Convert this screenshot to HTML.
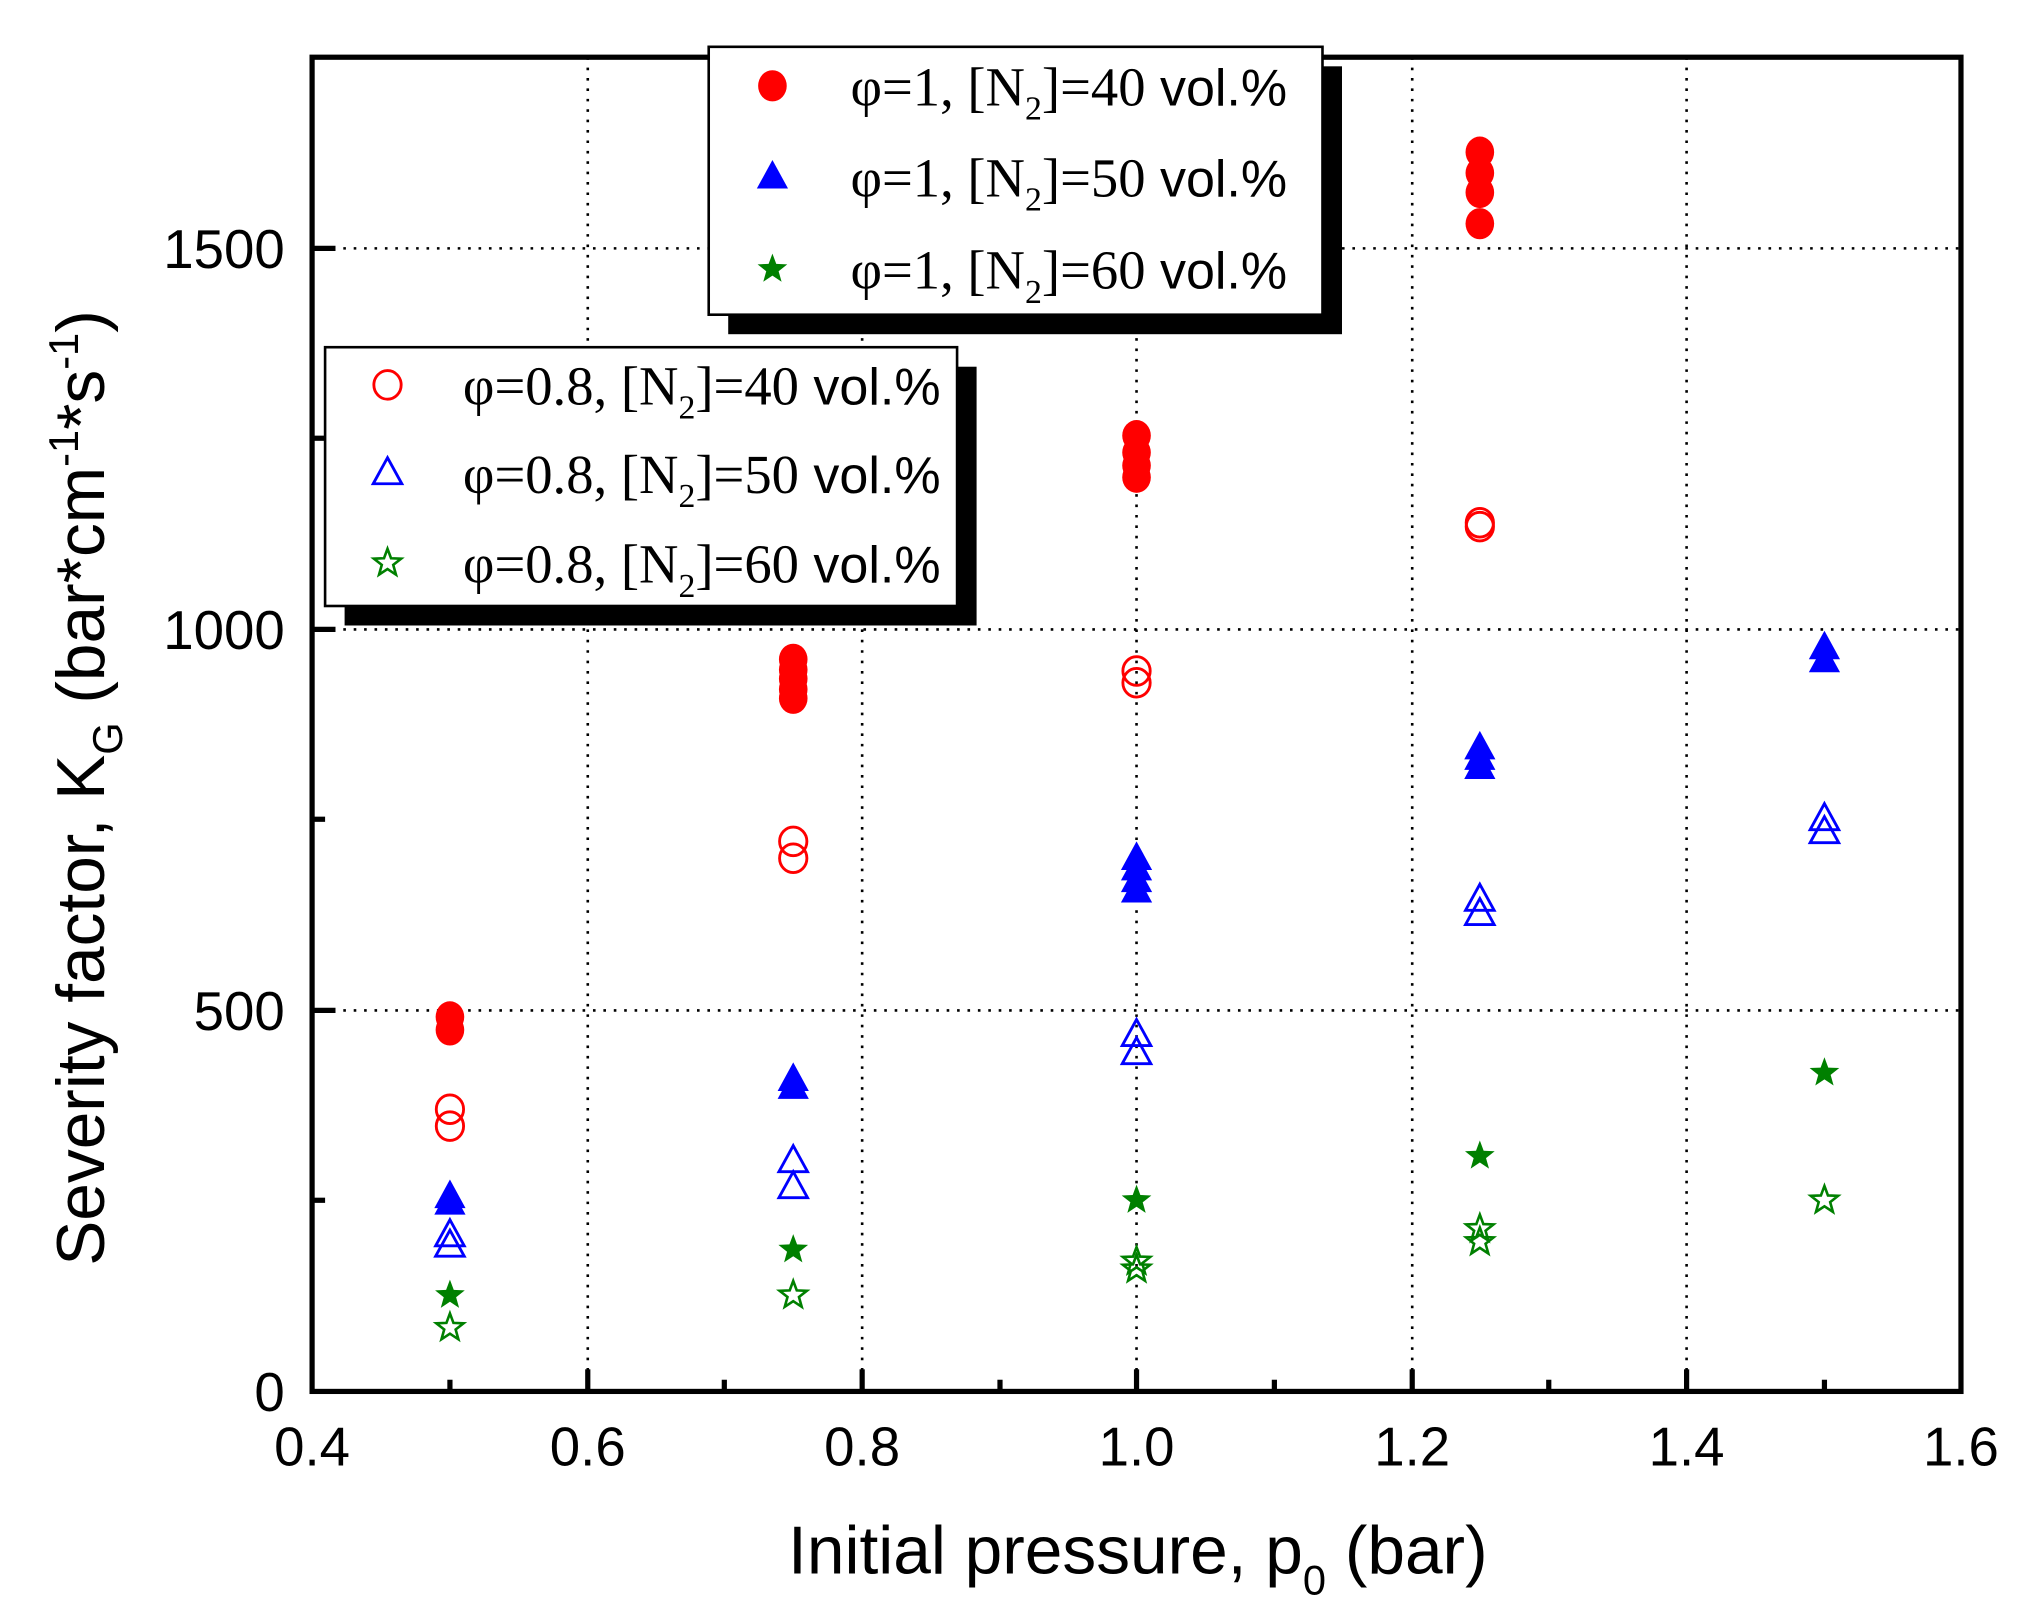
<!DOCTYPE html>
<html><head><meta charset="utf-8"><style>
html,body{margin:0;padding:0;background:#fff;}
svg{display:block;}
.t{font-family:"Liberation Sans",sans-serif;}
.s{font-family:"Liberation Serif",serif;}
</style></head><body>
<svg width="2039" height="1619" viewBox="0 0 1568 1245" preserveAspectRatio="none" xmlns="http://www.w3.org/2000/svg">
<defs>
<ellipse id="fc" cx="0" cy="0" rx="11" ry="12" fill="#ff0000"/>
<ellipse id="oc" cx="0" cy="0" rx="10.5" ry="11" fill="none" stroke="#ff0000" stroke-width="2.2"/>
<polygon id="ft" points="0,-13 12,9 -12,9" fill="#0000ff"/>
<polygon id="ot" points="0,-12 11,8 -11,8" fill="none" stroke="#0000ff" stroke-width="2.2"/>
<polygon id="fs" points="0,-12 2.94,-4.05 11.41,-3.71 4.76,1.55 7.05,9.71 0,5 -7.05,9.71 -4.76,1.55 -11.41,-3.71 -2.94,-4.05" fill="#008000"/>
<polygon id="os" points="0,-11 2.7,-3.7 10.5,-3.4 4.4,1.4 6.5,8.9 0,4.6 -6.5,8.9 -4.4,1.4 -10.5,-3.4 -2.7,-3.7" fill="none" stroke="#008000" stroke-width="2"/>
</defs>
<g stroke="#000" stroke-width="2" stroke-dasharray="2,6">
<line x1="452" y1="44" x2="452" y2="1070"/>
<line x1="663" y1="44" x2="663" y2="1070"/>
<line x1="874" y1="44" x2="874" y2="1070"/>
<line x1="1086" y1="44" x2="1086" y2="1070"/>
<line x1="1297" y1="44" x2="1297" y2="1070"/>
<line x1="240" y1="777" x2="1508" y2="777"/>
<line x1="240" y1="484" x2="1508" y2="484"/>
<line x1="240" y1="191" x2="1508" y2="191"/>
</g>
<g stroke="#000" stroke-width="4">
<line x1="452" y1="1070" x2="452" y2="1053"/><line x1="663" y1="1070" x2="663" y2="1053"/><line x1="874" y1="1070" x2="874" y2="1053"/><line x1="1086" y1="1070" x2="1086" y2="1053"/><line x1="1297" y1="1070" x2="1297" y2="1053"/>
<line x1="346" y1="1070" x2="346" y2="1061"/><line x1="557" y1="1070" x2="557" y2="1061"/><line x1="769" y1="1070" x2="769" y2="1061"/><line x1="980" y1="1070" x2="980" y2="1061"/><line x1="1191" y1="1070" x2="1191" y2="1061"/><line x1="1403" y1="1070" x2="1403" y2="1061"/>
<line x1="240" y1="777" x2="258" y2="777"/><line x1="240" y1="484" x2="258" y2="484"/><line x1="240" y1="191" x2="258" y2="191"/>
<line x1="240" y1="923" x2="250" y2="923"/><line x1="240" y1="630" x2="250" y2="630"/><line x1="240" y1="337" x2="250" y2="337"/>
</g>
<rect x="240" y="44" width="1268" height="1026" fill="none" stroke="#000" stroke-width="4"/>
<g class="t" font-size="42" fill="#000" text-anchor="middle">
<text x="240" y="1127">0.4</text><text x="452" y="1127">0.6</text><text x="663" y="1127">0.8</text><text x="874" y="1127">1.0</text><text x="1086" y="1127">1.2</text><text x="1297" y="1127">1.4</text><text x="1508" y="1127">1.6</text>
</g>
<g class="t" font-size="42" fill="#000" text-anchor="end">
<text x="219" y="1085">0</text><text x="219" y="792">500</text><text x="219" y="499">1000</text><text x="219" y="206">1500</text>
</g>
<text class="t" x="875" y="1210" font-size="52" text-anchor="middle">Initial pressure, p<tspan font-size="32" dy="16">0</tspan><tspan dy="-16"> (bar)</tspan></text>
<text class="t" transform="translate(80,606) rotate(-90)" font-size="52" text-anchor="middle">Severity factor, K<tspan font-size="32" dy="14">G</tspan><tspan dy="-14"> (bar*cm</tspan><tspan font-size="32" dy="-20">-1</tspan><tspan dy="20">*s</tspan><tspan font-size="32" dy="-20">-1</tspan><tspan dy="20">)</tspan></text>
<g>
<use href="#os" x="346" y="1021"/><use href="#os" x="610" y="996"/><use href="#os" x="874" y="970"/><use href="#os" x="874" y="976"/><use href="#os" x="1138" y="945"/><use href="#os" x="1138" y="955"/><use href="#os" x="1403" y="923"/>
<use href="#fs" x="346" y="996"/><use href="#fs" x="610" y="961"/><use href="#fs" x="874" y="923"/><use href="#fs" x="1138" y="889"/><use href="#fs" x="1403" y="825"/>
<use href="#ot" x="346" y="950"/><use href="#ot" x="346" y="958"/><use href="#ot" x="610" y="893"/><use href="#ot" x="610" y="913"/><use href="#ot" x="874" y="796"/><use href="#ot" x="874" y="810"/><use href="#ot" x="1138" y="692"/><use href="#ot" x="1138" y="703"/><use href="#ot" x="1403" y="630"/><use href="#ot" x="1403" y="640"/>
<use href="#ft" x="346" y="920"/><use href="#ft" x="346" y="925"/><use href="#ft" x="610" y="830"/><use href="#ft" x="610" y="836"/><use href="#ft" x="874" y="660"/><use href="#ft" x="874" y="668"/><use href="#ft" x="874" y="677"/><use href="#ft" x="874" y="685"/><use href="#ft" x="1138" y="575"/><use href="#ft" x="1138" y="583"/><use href="#ft" x="1138" y="590"/><use href="#ft" x="1403" y="498"/><use href="#ft" x="1403" y="508"/>
<use href="#oc" x="346" y="853"/><use href="#oc" x="346" y="866"/><use href="#oc" x="610" y="647"/><use href="#oc" x="610" y="660"/><use href="#oc" x="874" y="516"/><use href="#oc" x="874" y="525"/><use href="#oc" x="1138" y="402"/><use href="#oc" x="1138" y="405"/>
<use href="#fc" x="346" y="782"/><use href="#fc" x="346" y="792"/><use href="#fc" x="610" y="507"/><use href="#fc" x="610" y="515"/><use href="#fc" x="610" y="522"/><use href="#fc" x="610" y="530"/><use href="#fc" x="610" y="537"/><use href="#fc" x="874" y="335"/><use href="#fc" x="874" y="348"/><use href="#fc" x="874" y="358"/><use href="#fc" x="874" y="367"/><use href="#fc" x="1138" y="117"/><use href="#fc" x="1138" y="133"/><use href="#fc" x="1138" y="148"/><use href="#fc" x="1138" y="172"/>
</g>
<rect x="560" y="51" width="472" height="206" fill="#000"/>
<rect x="545" y="36" width="472" height="206" fill="#fff" stroke="#000" stroke-width="2"/>
<use href="#fc" x="594" y="66"/><use href="#ft" x="594" y="136"/><use href="#fs" x="594" y="207"/>
<g font-size="42" fill="#000">
<text x="654" y="81"><tspan class="s">φ=1, [N</tspan><tspan class="s" font-size="26" dy="11">2</tspan><tspan class="s" dy="-11">]=40</tspan><tspan class="t" font-size="40"> vol.%</tspan></text>
<text x="654" y="151"><tspan class="s">φ=1, [N</tspan><tspan class="s" font-size="26" dy="11">2</tspan><tspan class="s" dy="-11">]=50</tspan><tspan class="t" font-size="40"> vol.%</tspan></text>
<text x="654" y="222"><tspan class="s">φ=1, [N</tspan><tspan class="s" font-size="26" dy="11">2</tspan><tspan class="s" dy="-11">]=60</tspan><tspan class="t" font-size="40"> vol.%</tspan></text>
</g>
<rect x="265" y="282" width="486" height="199" fill="#000"/>
<rect x="250" y="267" width="486" height="199" fill="#fff" stroke="#000" stroke-width="2"/>
<use href="#oc" x="298" y="296"/><use href="#ot" x="298" y="364"/><use href="#os" x="298" y="433"/>
<g font-size="42" fill="#000">
<text x="356" y="311"><tspan class="s">φ=0.8, [N</tspan><tspan class="s" font-size="26" dy="11">2</tspan><tspan class="s" dy="-11">]=40</tspan><tspan class="t" font-size="40"> vol.%</tspan></text>
<text x="356" y="379"><tspan class="s">φ=0.8, [N</tspan><tspan class="s" font-size="26" dy="11">2</tspan><tspan class="s" dy="-11">]=50</tspan><tspan class="t" font-size="40"> vol.%</tspan></text>
<text x="356" y="448"><tspan class="s">φ=0.8, [N</tspan><tspan class="s" font-size="26" dy="11">2</tspan><tspan class="s" dy="-11">]=60</tspan><tspan class="t" font-size="40"> vol.%</tspan></text>
</g>
</svg>
</body></html>
